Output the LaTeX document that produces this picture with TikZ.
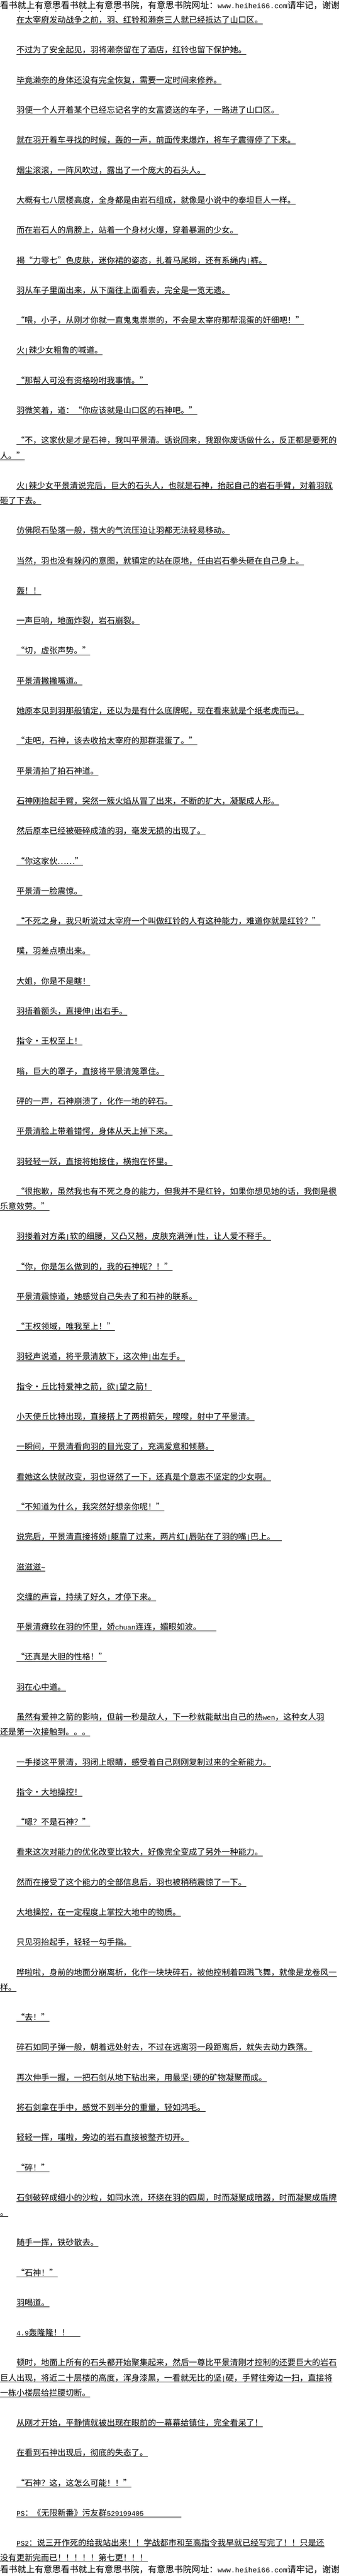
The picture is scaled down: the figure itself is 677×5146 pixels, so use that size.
\documentclass[tikz,border=0pt]{standalone}
\usepackage{fontspec}
\usepackage{tikz}
\newfontfamily\cjkfont{Noto Sans CJK SC}
\newfontfamily\hwfont{Liberation Mono}
\newcommand{\halfw}[1]{{\hwfont\fontsize{13.67}{20}\selectfont #1}}
\newcommand{\urlhw}[1]{{\hwfont\fontsize{14.5}{20}\selectfont #1}}
\newcommand{\fwdot}{\makebox[1em]{·}}

\begin{document}
\begin{tikzpicture}[x=1pt, y=-1pt,
                    uline/.style={draw=black, line width=0.8pt},
                    txtline/.style={anchor=base west, inner sep=0pt, outer sep=0pt, text depth=2pt, font=\cjkfont\fontsize{16.4}{20}\selectfont,
                                    append after command={(\tikzlastnode.south west) edge[uline] (\tikzlastnode.south east)}},
                    banner/.style={anchor=base west, inner sep=0pt, outer sep=0pt, font=\cjkfont\fontsize{17.4}{20}\selectfont}
                ]
                    \useasboundingbox (0,0) rectangle (677,5146);
                    \node[banner] (top) at (0,17) {看书就上有意思看书就上有意思书院，有意思书院网址：\urlhw{www.heihei66.com}请牢记，谢谢};
                    \foreach \x in {39,56,74,93,111,163,182,200,230,300,322}
                        \fill (\x,22) rectangle ++(1.5,1.5);
                    \node[txtline] (p1) at (33,46) {在太宰府发动战争之前，羽、红铃和濑奈三人就已经抵达了山口区。};
                    \node[txtline] (p2) at (33,106) {不过为了安全起见，羽将濑奈留在了酒店，红铃也留下保护她。};
                    \node[txtline] (p3) at (33,166) {毕竟濑奈的身体还没有完全恢复，需要一定时间来修养。};
                    \node[txtline] (p4) at (33,226) {羽便一个人开着某个已经忘记名字的女富婆送的车子，一路进了山口区。};
                    \node[txtline] (p5) at (33,286) {就在羽开着车寻找的时候，轰的一声，前面传来爆炸，将车子震得停了下来。};
                    \node[txtline] (p6) at (33,346) {烟尘滚滚，一阵风吹过，露出了一个庞大的石头人。};
                    \node[txtline] (p7) at (33,406) {大概有七八层楼高度，全身都是由岩石组成，就像是小说中的泰坦巨人一样。};
                    \node[txtline] (p8) at (33,466) {而在岩石人的肩膀上，站着一个身材火爆，穿着暴漏的少女。};
                    \node[txtline] (p9) at (33,526) {褐“力零七”色皮肤，迷你裙的姿态，扎着马尾辫，还有系绳内\halfw{|}裤。};
                    \node[txtline] (p10) at (33,586) {羽从车子里面出来，从下面往上面看去，完全是一览无遗。};
                    \node[txtline] (p11) at (33,646) {“喂，小子，从刚才你就一直鬼鬼祟祟的，不会是太宰府那帮混蛋的奸细吧！”};
                    \node[txtline] (p12) at (33,706) {火\halfw{|}辣少女粗鲁的喊道。};
                    \node[txtline] (p13) at (33,766) {“那帮人可没有资格吩咐我事情。”};
                    \node[txtline] (p14) at (33,826) {羽微笑着，道：“你应该就是山口区的石神吧。”};
                    \node[txtline] (p15) at (33,886) {“不，这家伙是才是石神，我叫平景清。话说回来，我跟你废话做什么，反正都是要死的};
                    \node[txtline] (p15b) at (0,916) {人。”};
                    \node[txtline] (p16) at (33,976) {火\halfw{|}辣少女平景清说完后，巨大的石头人，也就是石神，抬起自己的岩石手臂，对着羽就};
                    \node[txtline] (p16b) at (0,1006) {砸了下去。};
                    \node[txtline] (p17) at (33,1066) {仿佛陨石坠落一般，强大的气流压迫让羽都无法轻易移动。};
                    \node[txtline] (p18) at (33,1126) {当然，羽也没有躲闪的意图，就镇定的站在原地，任由岩石拳头砸在自己身上。};
                    \node[txtline] (p19) at (33,1186) {轰！！};
                    \node[txtline] (p20) at (33,1246) {一声巨响，地面炸裂，岩石崩裂。};
                    \node[txtline] (p21) at (33,1306) {“切，虚张声势。”};
                    \node[txtline] (p22) at (33,1366) {平景清撇撇嘴道。};
                    \node[txtline] (p23) at (33,1426) {她原本见到羽那般镇定，还以为是有什么底牌呢，现在看来就是个纸老虎而已。};
                    \node[txtline] (p24) at (33,1486) {“走吧，石神，该去收拾太宰府的那群混蛋了。”};
                    \node[txtline] (p25) at (33,1546) {平景清拍了拍石神道。};
                    \node[txtline] (p26) at (33,1606) {石神刚抬起手臂，突然一簇火焰从冒了出来，不断的扩大，凝聚成人形。};
                    \node[txtline] (p27) at (33,1666) {然后原本已经被砸碎成渣的羽，毫发无损的出现了。};
                    \node[txtline] (p28) at (33,1726) {“你这家伙……”};
                    \node[txtline] (p29) at (33,1786) {平景清一脸震惊。};
                    \node[txtline] (p30) at (33,1846) {“不死之身，我只听说过太宰府一个叫做红铃的人有这种能力，难道你就是红铃？”};
                    \node[txtline] (p31) at (33,1906) {噗，羽差点喷出来。};
                    \node[txtline] (p32) at (33,1966) {大姐，你是不是瞎！};
                    \node[txtline] (p33) at (33,2026) {羽捂着额头，直接伸\halfw{|}出右手。};
                    \node[txtline] (p34) at (33,2086) {指令\fwdot 王权至上！};
                    \node[txtline] (p35) at (33,2146) {嗡，巨大的罩子，直接将平景清笼罩住。};
                    \node[txtline] (p36) at (33,2206) {砰的一声，石神崩溃了，化作一地的碎石。};
                    \node[txtline] (p37) at (33,2266) {平景清脸上带着错愕，身体从天上掉下来。};
                    \node[txtline] (p38) at (33,2326) {羽轻轻一跃，直接将她接住，横抱在怀里。};
                    \node[txtline] (p39) at (33,2386) {“很抱歉，虽然我也有不死之身的能力，但我并不是红铃，如果你想见她的话，我倒是很};
                    \node[txtline] (p39b) at (0,2416) {乐意效劳。”};
                    \node[txtline] (p40) at (33,2476) {羽搂着对方柔\halfw{|}软的细腰，又凸又翘，皮肤充满弹\halfw{|}性，让人爱不释手。};
                    \node[txtline] (p41) at (33,2536) {“你，你是怎么做到的，我的石神呢？！”};
                    \node[txtline] (p42) at (33,2596) {平景清震惊道，她感觉自己失去了和石神的联系。};
                    \node[txtline] (p43) at (33,2656) {“王权领域，唯我至上！”};
                    \node[txtline] (p44) at (33,2716) {羽轻声说道，将平景清放下，这次伸\halfw{|}出左手。};
                    \node[txtline] (p45) at (33,2776) {指令\fwdot 丘比特爱神之箭，欲\halfw{|}望之箭！};
                    \node[txtline] (p46) at (33,2836) {小天使丘比特出现，直接搭上了两根箭矢，嗖嗖，射中了平景清。};
                    \node[txtline] (p47) at (33,2896) {一瞬间，平景清看向羽的目光变了，充满爱意和倾慕。};
                    \node[txtline] (p48) at (33,2956) {看她这么快就改变，羽也讶然了一下，还真是个意志不坚定的少女啊。};
                    \node[txtline] (p49) at (33,3016) {“不知道为什么，我突然好想亲你呢！”};
                    \node[txtline] (p50) at (33,3076) {说完后，平景清直接将娇\halfw{|}躯靠了过来，两片红\halfw{|}唇贴在了羽的嘴\halfw{|}巴上。\hspace*{0.8em}};
                    \node[txtline] (p51) at (33,3136) {滋滋滋\halfw{\textasciitilde}};
                    \node[txtline] (p52) at (33,3196) {交缠的声音，持续了好久，才停下来。};
                    \node[txtline] (p53) at (33,3256) {平景清瘫软在羽的怀里，娇\halfw{chuan}连连，媚眼如波。\hspace*{1.85em}};
                    \node[txtline] (p54) at (33,3316) {“还真是大胆的性格！”};
                    \node[txtline] (p55) at (33,3376) {羽在心中道。};
                    \node[txtline] (p56) at (33,3436) {虽然有爱神之箭的影响，但前一秒是敌人，下一秒就能献出自己的热\halfw{wen}，这种女人羽};
                    \node[txtline] (p56b) at (0,3466) {还是第一次接触到。。。};
                    \node[txtline] (p57) at (33,3526) {一手搂这平景清，羽闭上眼睛，感受着自己刚刚复制过来的全新能力。};
                    \node[txtline] (p58) at (33,3586) {指令\fwdot 大地操控！};
                    \node[txtline] (p59) at (33,3646) {“嗯？不是石神？”};
                    \node[txtline] (p60) at (33,3706) {看来这次对能力的优化改变比较大，好像完全变成了另外一种能力。};
                    \node[txtline] (p61) at (33,3766) {然而在接受了这个能力的全部信息后，羽也被稍稍震惊了一下。};
                    \node[txtline] (p62) at (33,3826) {大地操控，在一定程度上掌控大地中的物质。};
                    \node[txtline] (p63) at (33,3886) {只见羽抬起手，轻轻一勾手指。};
                    \node[txtline] (p64) at (33,3946) {哗啦啦，身前的地面分崩离析，化作一块块碎石，被他控制着四溅飞舞，就像是龙卷风一};
                    \node[txtline] (p64b) at (0,3976) {样。};
                    \node[txtline] (p65) at (33,4036) {“去！”};
                    \node[txtline] (p66) at (33,4096) {碎石如同子弹一般，朝着远处射去，不过在远离羽一段距离后，就失去动力跌落。};
                    \node[txtline] (p67) at (33,4156) {再次伸手一握，一把石剑从地下钻出来，用最坚\halfw{|}硬的矿物凝聚而成。};
                    \node[txtline] (p68) at (33,4216) {将石剑拿在手中，感觉不到半分的重量，轻如鸿毛。};
                    \node[txtline] (p69) at (33,4276) {轻轻一挥，嗤啦，旁边的岩石直接被整齐切开。};
                    \node[txtline] (p70) at (33,4336) {“碎！”};
                    \node[txtline] (p71) at (33,4396) {石剑破碎成细小的沙粒，如同水流，环绕在羽的四周，时而凝聚成暗器，时而凝聚成盾牌};
                    \node[txtline] (p71b) at (0,4426) {。};
                    \node[txtline] (p72) at (33,4486) {随手一挥，铁砂散去。};
                    \node[txtline] (p73) at (33,4546) {“石神！”};
                    \node[txtline] (p74) at (33,4606) {羽喝道。};
                    \node[txtline] (p75) at (33,4666) {\halfw{4.9}轰隆隆！！\hspace*{1.3em}};
                    \node[txtline] (p76) at (33,4726) {顿时，地面上所有的石头都开始聚集起来，然后一尊比平景清刚才控制的还要巨大的岩石};
                    \node[txtline] (p76b) at (0,4756) {巨人出现，将近二十层楼的高度，浑身漆黑，一看就无比的坚\halfw{|}硬，手臂往旁边一扫，直接将};
                    \node[txtline] (p76c) at (0,4786) {一栋小楼层给拦腰切断。};
                    \node[txtline] (p77) at (33,4846) {从刚才开始，平静情就被出现在眼前的一幕幕给镇住，完全看呆了！};
                    \node[txtline] (p78) at (33,4906) {在看到石神出现后，彻底的失态了。};
                    \node[txtline] (p79) at (33,4966) {“石神？这，这怎么可能！！”};
                    \node[txtline] (p80) at (33,5026) {\halfw{PS}：《无限新番》污友群\halfw{529199405}\hspace*{4.6em}};
                    \node[txtline] (p81) at (33,5086) {\halfw{PS2}：说三开作死的给我站出来！！学战都市和至高指令我早就已经写完了！！只是还};
                    \node[txtline] (p81b) at (0,5116) {没有更新完而已！！！！！第七更！！！};
                    \node[banner] (bottom) at (0,5139) {看书就上有意思看书就上有意思书院，有意思书院网址：\urlhw{www.heihei66.com}请牢记，谢谢};
                \end{tikzpicture}
\end{document}
